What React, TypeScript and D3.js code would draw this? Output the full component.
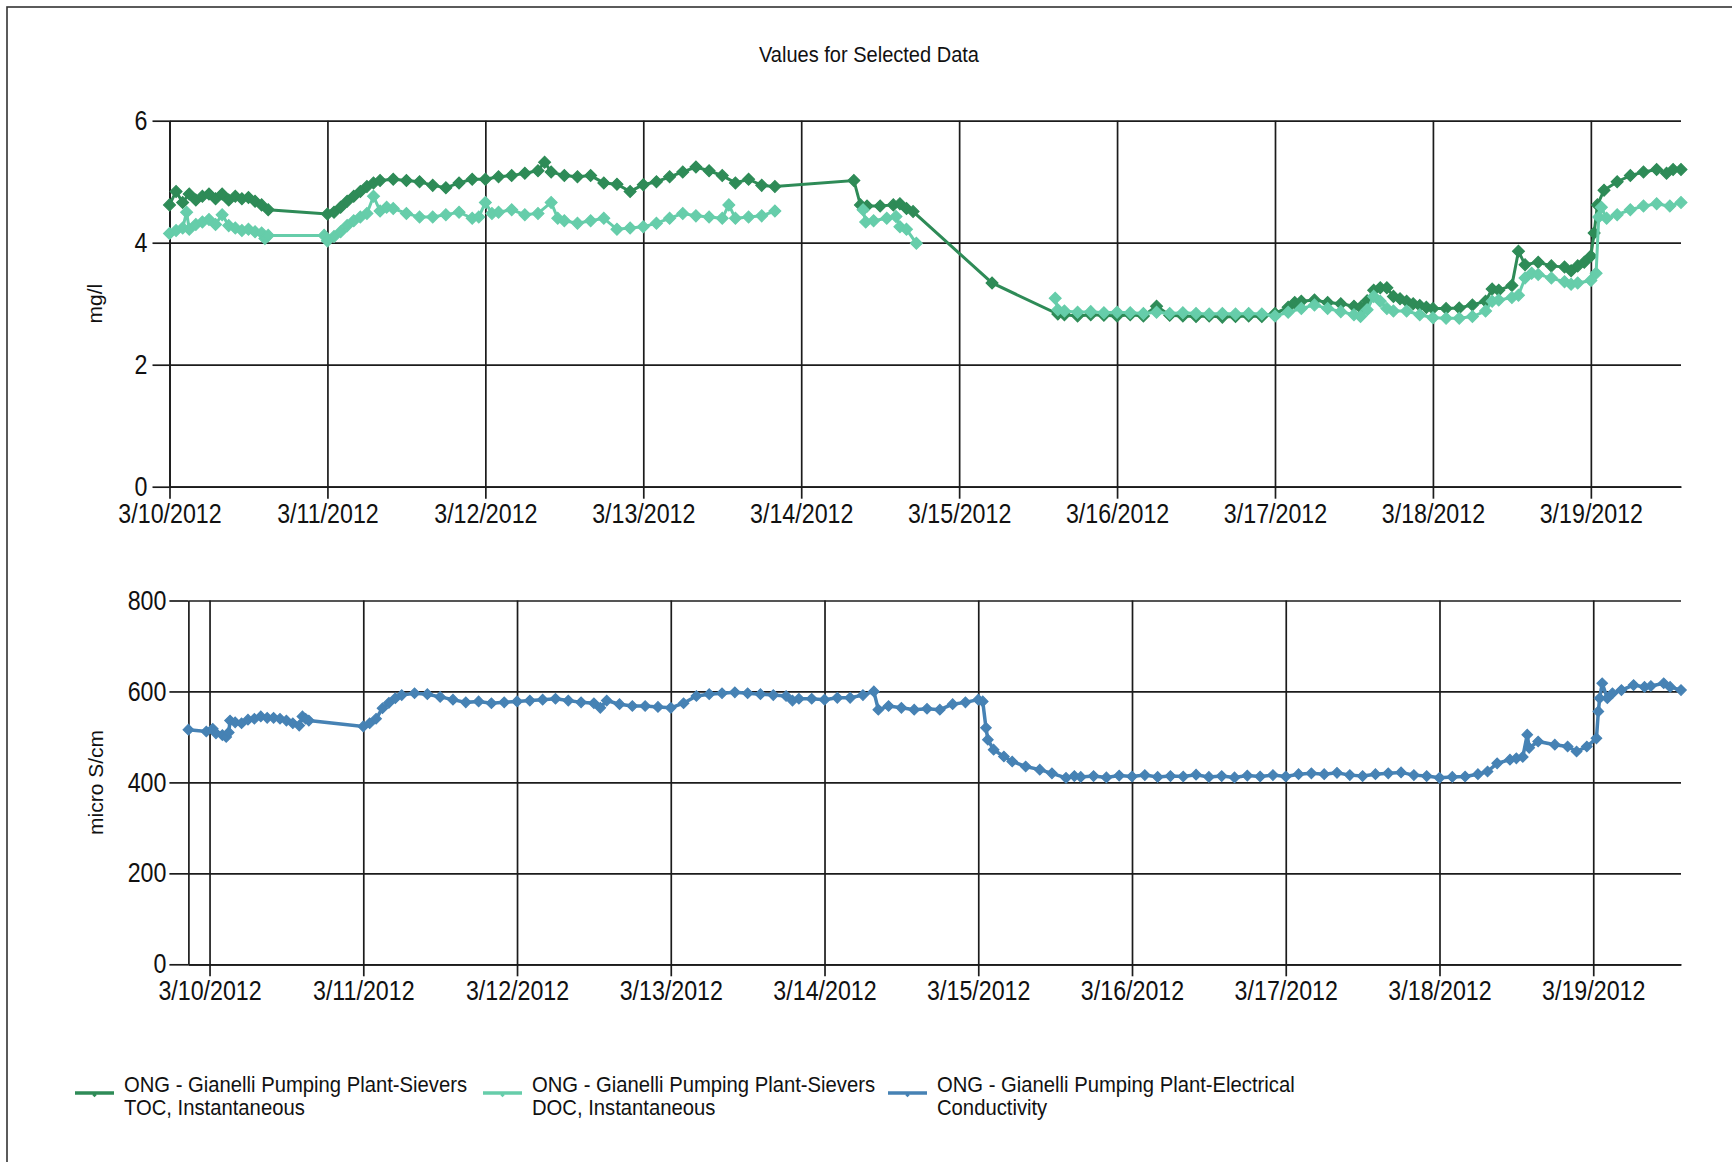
import React, { useRef, useEffect } from 'react';
import * as d3 from 'd3';

// hours after 3/10/2012 00:00
const tocHours = [
  0, 1, 2, 3, 4, 5, 6, 7, 8, 9, 10, 11, 12, 13, 14, 15,
  24, 25, 26, 27, 28, 29, 30, 31, 32, 34, 36, 38, 40, 42, 44, 46, 48, 50, 52, 54, 56, 57, 58, 60,
  62, 64, 66, 68, 70, 72, 74, 76, 78, 80, 82, 84, 86, 88, 90, 92,
  104, 105, 106, 108, 110, 111, 112, 113, 125, 135,
  136, 138, 140, 142, 144, 146, 148, 150, 152, 154, 156, 158, 160, 162, 164, 166,
  168, 170, 171, 172, 174, 176, 178, 180, 181, 182, 183, 184, 185, 186, 187, 188, 189, 190, 191, 192,
  194, 196, 198, 200, 201, 202, 204, 205, 206, 208, 210, 212, 213, 214, 215, 216, 216.5, 217, 218,
  220, 222, 224, 226, 227.5, 228.5, 229.7,
];
const tocValues = [
  4.62, 4.84, 4.66, 4.8, 4.7, 4.76, 4.8, 4.72, 4.8, 4.7, 4.76, 4.72, 4.74, 4.68, 4.62, 4.54,
  4.47, 4.5, 4.58, 4.68, 4.76, 4.84, 4.92, 4.98, 5.02, 5.04, 5.02, 5.0, 4.94, 4.9, 4.98, 5.04, 5.04, 5.08, 5.1, 5.14, 5.18, 5.32, 5.16, 5.1,
  5.08, 5.1, 4.98, 4.96, 4.84, 4.95, 5.0, 5.08, 5.16, 5.24, 5.18, 5.1, 4.98, 5.04, 4.94, 4.92,
  5.02, 4.62, 4.6, 4.6, 4.62, 4.64, 4.56, 4.51, 3.34, 2.83,
  2.82, 2.8, 2.82, 2.81, 2.8, 2.82, 2.8, 2.96, 2.81, 2.8, 2.79, 2.8, 2.78, 2.79, 2.8, 2.79,
  2.84, 2.94, 3.02, 3.04, 3.06, 3.02, 3.0, 2.96, 2.94, 3.05, 3.22, 3.26, 3.26, 3.12, 3.08, 3.04, 3.0, 2.97, 2.94, 2.92,
  2.92, 2.93, 2.98, 3.04, 3.24, 3.22, 3.3, 3.86, 3.64, 3.68, 3.62, 3.6, 3.54, 3.62, 3.68, 3.78, 4.16, 4.62, 4.86,
  5.0, 5.1, 5.16, 5.2, 5.14, 5.2, 5.2,
];

// null values are gaps in the DOC record
const docHours = [
  0, 1, 2, 2.6, 3, 4, 5, 6, 7, 8, 9, 10, 11, 12, 13, 14, 14.5, 15,
  23.5, 24, 25, 26, 27, 28, 29, 30, 31, 32, 33, 34, 36, 38, 40, 42, 44, 46, 47, 48, 49, 50, 52, 54, 56, 58, 59, 60,
  62, 64, 66, 68, 70, 72, 74, 76, 78, 80, 82, 84, 85, 86, 88, 90, 92,
  99,
  105.4, 105.8, 107, 109, 110.4, 111, 112, 113.5,
  124,
  134.6, 135, 136, 138, 140, 142, 144, 146, 148, 150, 152, 154, 156, 158, 160, 162, 164, 166,
  168, 170, 172, 174, 176, 178, 180, 181, 182, 183, 184, 185, 186, 188, 190, 192,
  194, 196, 198, 200, 201, 202, 204, 205, 206, 207, 208, 210, 212, 213, 214, 216, 216.8, 217.2, 217.6, 218.4,
  220, 222, 224, 226, 228, 229.7,
];
const docValues = [
  4.15, 4.2, 4.24, 4.5, 4.22, 4.3, 4.34, 4.38, 4.3, 4.46, 4.28, 4.24, 4.2, 4.22, 4.18, 4.16, 4.07, 4.12,
  4.12, 4.03, 4.1, 4.18, 4.28, 4.36, 4.42, 4.48, 4.76, 4.52, 4.58, 4.56, 4.48, 4.42, 4.42, 4.46, 4.5, 4.4, 4.42, 4.66, 4.48, 4.5, 4.54, 4.46, 4.48, 4.66, 4.4, 4.36,
  4.32, 4.36, 4.4, 4.22, 4.24, 4.26, 4.32, 4.4, 4.48, 4.44, 4.42, 4.4, 4.62, 4.4, 4.42, 4.44, 4.52,
  null,
  4.54, 4.34, 4.36, 4.4, 4.43, 4.26, 4.22, 3.99,
  null,
  3.09, 2.9, 2.88, 2.86, 2.87, 2.85, 2.86, 2.85, 2.84, 2.86, 2.84, 2.85, 2.84, 2.83, 2.84, 2.83, 2.84, 2.83,
  2.8, 2.86, 2.92, 2.98, 2.92, 2.87, 2.82, 2.79, 2.9, 3.12, 3.04, 2.92, 2.88, 2.88, 2.82, 2.77,
  2.76, 2.76, 2.79, 2.88, 3.04, 3.06, 3.1, 3.14, 3.42, 3.5, 3.48, 3.42, 3.36, 3.32, 3.34, 3.38, 3.5, 4.42, 4.58, 4.4,
  4.46, 4.54, 4.6, 4.64, 4.6, 4.66,
];

const ecHours = [
  -3.3, -0.5, 0.5, 1, 2, 2.6, 3, 3.2, 4, 5, 6, 7, 8, 9, 10, 11, 12, 13, 14, 14.5, 15, 15.5,
  24, 25, 26, 27, 28, 29, 30, 32, 34, 36, 38, 40, 42, 44, 46, 48, 50, 52, 54, 56, 58, 60, 61, 62,
  64, 66, 68, 70, 72, 74, 76, 78, 80, 82, 84, 86, 88, 90, 91, 92, 94, 96, 98, 100, 102, 103.7,
  104.4, 106, 108, 110, 112, 114, 116, 118, 120, 120.7, 121.2, 121.5, 122.4, 124, 125.3, 127.4,
  129.6, 131.5, 133.7, 135, 136, 138, 140, 142, 144, 146, 148, 150, 152, 154, 156, 158, 160, 162,
  164, 166, 168, 170, 172, 174, 176, 178, 180, 182, 184, 186, 188, 190, 192, 194, 196, 198, 199.5,
  201, 203, 204, 205, 205.7, 206, 207.4, 210, 212, 213.4, 215, 216.5, 216.8, 217, 217.4, 218.2, 219,
  220.4, 222.3, 224, 225, 227, 228, 229.7,
];
const ecValues = [
  516, 512, 518, 508, 504, 500, 510, 536, 532, 530, 538, 540, 545, 542, 542, 540, 536, 530, 525, 545, 540, 536,
  523, 530, 540, 563, 575, 585, 592, 596, 594, 588, 582, 576, 578, 574, 576, 578, 580, 582, 584, 580, 576, 574, 564, 580,
  572, 568, 568, 566, 564, 574, 590, 594, 596, 598, 596, 594, 592, 590, 580, 584, 584, 582, 586, 586, 592, 600,
  560, 568, 564, 560, 562, 560, 572, 576, 582, 578, 520, 494, 472, 457, 446, 435,
  428, 420, 410, 414, 412, 414, 411, 415, 413, 416, 412, 414, 413, 417, 412, 414, 411, 415,
  413, 416, 413, 418, 420, 418, 421, 416, 414, 418, 420, 422, 416, 414, 410, 412, 413, 418, 424,
  442, 450, 453, 456, 505, 476, 490, 483, 479, 468, 479, 497, 556, 585, 618, 585, 596,
  603, 614, 610, 612, 618, 610, 603,
];

const dayTicks = [
  '3/10/2012', '3/11/2012', '3/12/2012', '3/13/2012', '3/14/2012',
  '3/15/2012', '3/16/2012', '3/17/2012', '3/18/2012', '3/19/2012',
];
const mgTicks = [0, 2, 4, 6];
const ecTicks = [0, 200, 400, 600, 800];

const legendItems = [
  { lines: ['ONG - Gianelli Pumping Plant-Sievers', 'TOC, Instantaneous'], color: '#2e8b57' },
  { lines: ['ONG - Gianelli Pumping Plant-Sievers', 'DOC, Instantaneous'], color: '#66cdaa' },
  { lines: ['ONG - Gianelli Pumping Plant-Electrical', 'Conductivity'], color: '#4682b4' },
];

const W = 1732;
const H = 1162;
const SANS = "'Liberation Sans', Arial, sans-serif";
const GRID = '#1c1c1c';

const start = new Date(2012, 2, 10, 0, 0, 0).getTime();
const toDate = (h: number) => new Date(start + h * 3600 * 1000);
const parseDay = d3.timeParse('%m/%d/%Y');
const fmtDay = d3.timeFormat('%-m/%-d/%Y');

function pts(hours: number[], values: (number | null)[]) {
  return hours.map((h, i) => ({ t: toDate(h), v: values[i] }));
}

// no narrow face installed, so squeeze Liberation Sans horizontally
function narrow(sel: any, k = 0.82) {
  sel.attr('font-family', SANS).each(function (this: any) {
    const len = this.getComputedTextLength();
    d3.select(this).attr('textLength', len * k).attr('lengthAdjust', 'spacingAndGlyphs');
  });
}

function drawPanel(svg: any, o: any) {
  const { x, y, yTicks, yTitle, yTitleX, tickOut, yPad, series } = o;
  const [left, right] = x.range();
  const [bottom, top] = y.range();
  const g = svg.append('g');
  const days = dayTicks.map((d) => parseDay(d));

  // grid
  g.append('g')
    .attr('transform', `translate(${left},0)`)
    .call(d3.axisLeft(y).tickValues(yTicks).tickSize(-(right - left)).tickFormat(() => ''))
    .call((a: any) => a.select('.domain').remove())
    .selectAll('line').attr('stroke', GRID).attr('stroke-width', 1.7);
  g.append('g')
    .attr('transform', `translate(0,${top})`)
    .call(d3.axisTop(x).tickValues(days).tickSize(-(bottom - top)).tickFormat(() => ''))
    .call((a: any) => a.select('.domain').remove())
    .selectAll('line').attr('stroke', GRID).attr('stroke-width', 1.7);

  // axes with labels
  const ya = g.append('g')
    .attr('transform', `translate(${left},0)`)
    .call(d3.axisLeft(y).tickValues(yTicks).tickFormat(d3.format('d')).tickSize(tickOut).tickPadding(yPad).tickSizeOuter(0));
  const xa = g.append('g')
    .attr('transform', `translate(0,${bottom})`)
    .call(d3.axisBottom(x).tickValues(days).tickFormat((d: any) => fmtDay(d)).tickSize(12).tickPadding(5).tickSizeOuter(0));
  [ya, xa].forEach((a: any) => {
    a.select('.domain').attr('stroke', GRID).attr('stroke-width', 1.7);
    a.selectAll('line').attr('stroke', GRID).attr('stroke-width', 1.7);
    a.selectAll('text').attr('font-size', 27).attr('fill', '#111').call(narrow, 0.86);
  });

  g.append('text')
    .attr('transform', `translate(${yTitleX},${(top + bottom) / 2}) rotate(-90)`)
    .attr('text-anchor', 'middle')
    .attr('dominant-baseline', 'central')
    .attr('font-family', SANS)
    .attr('font-size', 21)
    .attr('fill', '#111')
    .text(yTitle);

  series.forEach((s: any) => {
    const line = d3.line<any>()
      .defined((d) => d.v !== null)
      .x((d) => x(d.t))
      .y((d) => y(d.v));
    g.append('path')
      .attr('d', line(s.data))
      .attr('fill', 'none')
      .attr('stroke', s.color)
      .attr('stroke-width', s.width);
    const sym = d3.symbol(d3.symbolSquare, s.size);
    g.append('g')
      .selectAll('path')
      .data(s.data.filter((d: any) => d.v !== null))
      .join('path')
      .attr('transform', (d: any) => `translate(${x(d.t)},${y(d.v)}) rotate(45)`)
      .attr('d', sym() as string)
      .attr('fill', s.color)
      .attr('stroke', s.color)
      .attr('stroke-width', 1.2);
  });
}

function App() {
  const svgRef = useRef<SVGSVGElement>(null);

  useEffect(() => {
    const svg = d3.select(svgRef.current);
    svg.selectAll('*').remove();

    svg.append('rect')
      .attr('x', 7).attr('y', 7).attr('width', W + 20).attr('height', H + 20)
      .attr('fill', '#fff').attr('stroke', '#333').attr('stroke-width', 1.6);

    svg.append('text')
      .attr('x', 869).attr('y', 54)
      .attr('text-anchor', 'middle').attr('dominant-baseline', 'central')
      .attr('font-size', 22).attr('fill', '#111')
      .text('Values for Selected Data')
      .call(narrow, 0.91);

    const toc = pts(tocHours, tocValues);
    const doc = pts(docHours, docValues);
    const ec = pts(ecHours, ecValues);

    const xTop = d3.scaleTime()
      .domain(d3.extent([...toc, ...doc], (d) => d.t) as [Date, Date])
      .range([169.5, 1681]);
    const yTop = d3.scaleLinear().domain([0, 6]).range([486.7, 120.7]);
    drawPanel(svg, {
      x: xTop, y: yTop, yTicks: mgTicks, yTitle: 'mg/l', yTitleX: 94, tickOut: 17, yPad: 5,
      series: [
        { data: toc, color: legendItems[0].color, size: 70, width: 3 },
        { data: doc, color: legendItems[1].color, size: 70, width: 3 },
      ],
    });

    const xBot = d3.scaleTime()
      .domain(d3.extent(ec, (d) => d.t) as [Date, Date])
      .range([188.4, 1681]);
    const yBot = d3.scaleLinear().domain([0, 800]).range([964.3, 600.5]);
    drawPanel(svg, {
      x: xBot, y: yBot, yTicks: ecTicks, yTitle: 'micro S/cm', yTitleX: 95, tickOut: 19, yPad: 3,
      series: [{ data: ec, color: legendItems[2].color, size: 55, width: 3.5 }],
    });

    // legend
    const legX = [75, 483, 888];
    legendItems.forEach((it, i) => {
      const lg = svg.append('g').attr('transform', `translate(${legX[i]},1093)`);
      lg.append('line').attr('x1', 0).attr('x2', 39).attr('y1', 0).attr('y2', 0)
        .attr('stroke', it.color).attr('stroke-width', 3.5);
      lg.append('path').attr('d', d3.symbol(d3.symbolSquare, 10)() as string)
        .attr('transform', 'translate(19.5,2) rotate(45)').attr('fill', it.color);
      it.lines.forEach((t, j) => {
        lg.append('text')
          .attr('x', 49).attr('y', -9 + j * 23)
          .attr('dominant-baseline', 'central')
          .attr('font-size', 22).attr('fill', '#111')
          .text(t)
          .call(narrow, 0.92);
      });
    });
  }, []);

  return (
    <svg
      ref={svgRef}
      width={W}
      height={H}
      style={{ position: 'absolute', left: 0, top: 0, background: '#fff' }}
    />
  );
}

export default App;
